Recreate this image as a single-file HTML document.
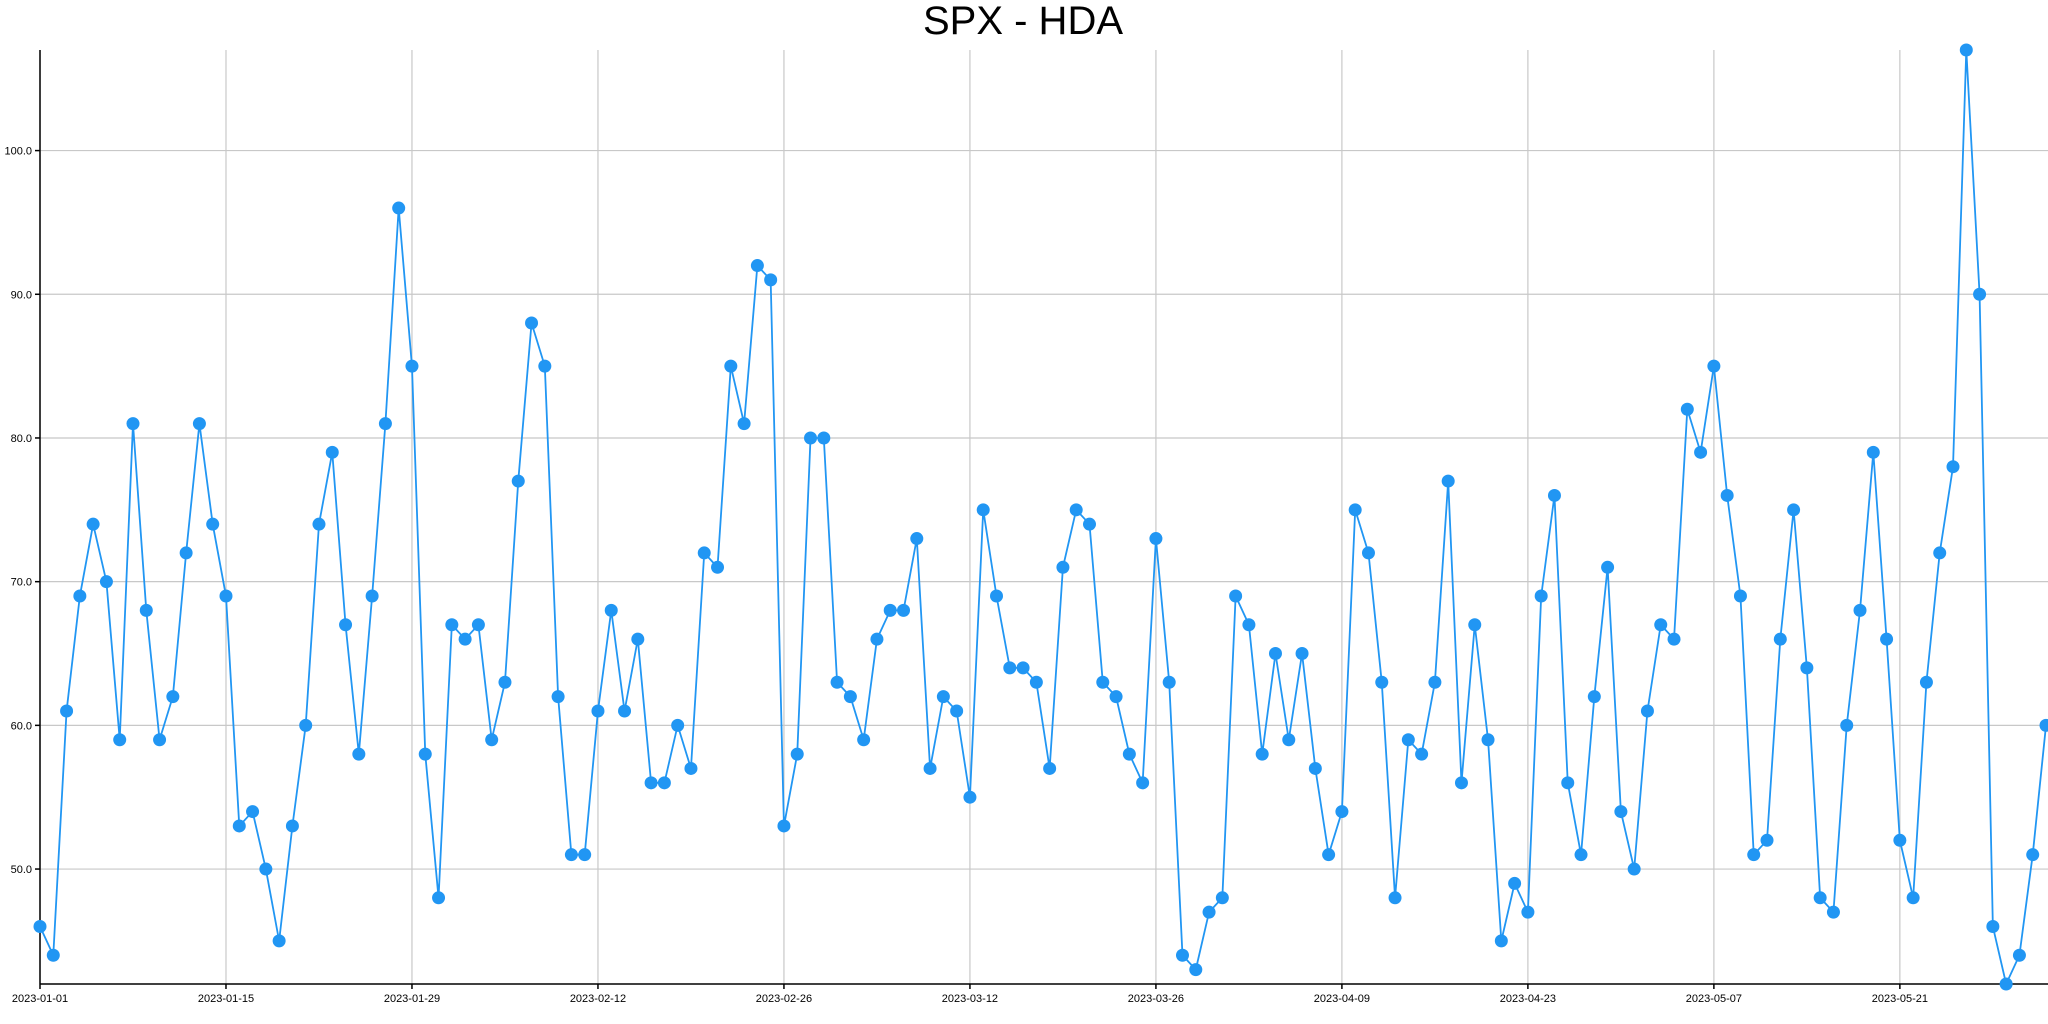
<!DOCTYPE html>
<html><head><meta charset="utf-8"><style>
html,body{margin:0;padding:0;background:#fff;}
svg{display:block;font-family:"Liberation Sans",Arial,sans-serif;}
</style></head><body>
<svg id="chart" width="2048" height="1024" viewBox="0 0 2048 1024">
<text x="1023" y="34" text-anchor="middle" font-size="40" fill="#000">SPX - HDA</text>
<g id="grid"></g>
<g id="axes"></g>
<g id="series"></g>
</svg>
<script>
const startDate = "2023-01-01";
const values = [46,44,61,69,74,70,59,81,68,59,62,72,81,74,69,53,54,50,45,53,60,74,79,67,58,69,81,96,85,58,48,67,66,67,59,63,77,88,85,62,51,51,61,68,61,66,56,56,60,57,72,71,85,81,92,91,53,58,80,80,63,62,59,66,68,68,73,57,62,61,55,75,69,64,64,63,57,71,75,74,63,62,58,56,73,63,44,43,47,48,69,67,58,65,59,65,57,51,54,75,72,63,48,59,58,63,77,56,67,59,45,49,47,69,76,56,51,62,71,54,50,61,67,66,82,79,85,76,69,51,52,66,75,64,48,47,60,68,79,66,52,48,63,72,78,107,90,46,42,44,51,60];
const yTicks = [50,60,70,80,90,100];
const xTickLabels = ["2023-01-01","2023-01-15","2023-01-29","2023-02-12","2023-02-26","2023-03-12","2023-03-26","2023-04-09","2023-04-23","2023-05-07","2023-05-21"];

const NS="http://www.w3.org/2000/svg";
const X0=40, X1=2046, Y0=984, Y1=50;
const yMin=Math.min(...values), yMax=Math.max(...values);
const t0=Date.parse(startDate+"T00:00:00Z");
const nDays=values.length-1;
const xOfDay=d=>X0+(X1-X0)*d/nDays;
const xOfDate=s=>xOfDay((Date.parse(s+"T00:00:00Z")-t0)/86400000);
const yOf=v=>Y0-(Y0-Y1)*(v-yMin)/(yMax-yMin);
function mk(tag,attrs,parent){const e=document.createElementNS(NS,tag);for(const k in attrs)e.setAttribute(k,attrs[k]);parent.appendChild(e);return e;}
const grid=document.getElementById('grid'),axes=document.getElementById('axes'),ser=document.getElementById('series');

yTicks.forEach(v=>{
  const y=yOf(v);
  const l=mk('line',{x1:X0,x2:2048,y1:y,y2:y,stroke:'#c8c8c8','stroke-width':1.2},grid);
  
  
  const tk=mk('line',{x1:X0-5,x2:X0,y1:y,y2:y,stroke:'#000','stroke-width':1.5},axes);
  
  
  const t=mk('text',{x:X0-8,y:y+4,'text-anchor':'end','font-size':11,fill:'#000'},axes);
  t.textContent=v.toFixed(1);
  
  
});
xTickLabels.forEach(s=>{
  const x=xOfDate(s);
  const l=mk('line',{x1:x,x2:x,y1:Y1,y2:Y0,stroke:'#c8c8c8','stroke-width':1.2},grid);
  
  
  const tk=mk('line',{x1:x,x2:x,y1:Y0,y2:Y0+5,stroke:'#000','stroke-width':1.5},axes);
  
  
  const t=mk('text',{x:x,y:Y0+18,'text-anchor':'middle','font-size':11,fill:'#000'},axes);
  t.textContent=s;
  
  
});
const ya=mk('line',{x1:X0,x2:X0,y1:Y1,y2:Y0,stroke:'#000','stroke-width':1.5},axes);


const xa=mk('line',{x1:X0,x2:2048,y1:Y0,y2:Y0,stroke:'#000','stroke-width':1.5},axes);



const pts=values.map((v,i)=>xOfDay(i).toFixed(2)+','+yOf(v).toFixed(2)).join(' ');
const pl=mk('polyline',{points:pts,fill:'none',stroke:'#2196f3','stroke-width':1.8},ser);


values.forEach((v,i)=>{
  const c=mk('circle',{cx:xOfDay(i),cy:yOf(v),r:6.5,fill:'#2196f3'},ser);
  
  
});
</script>
</body></html>
